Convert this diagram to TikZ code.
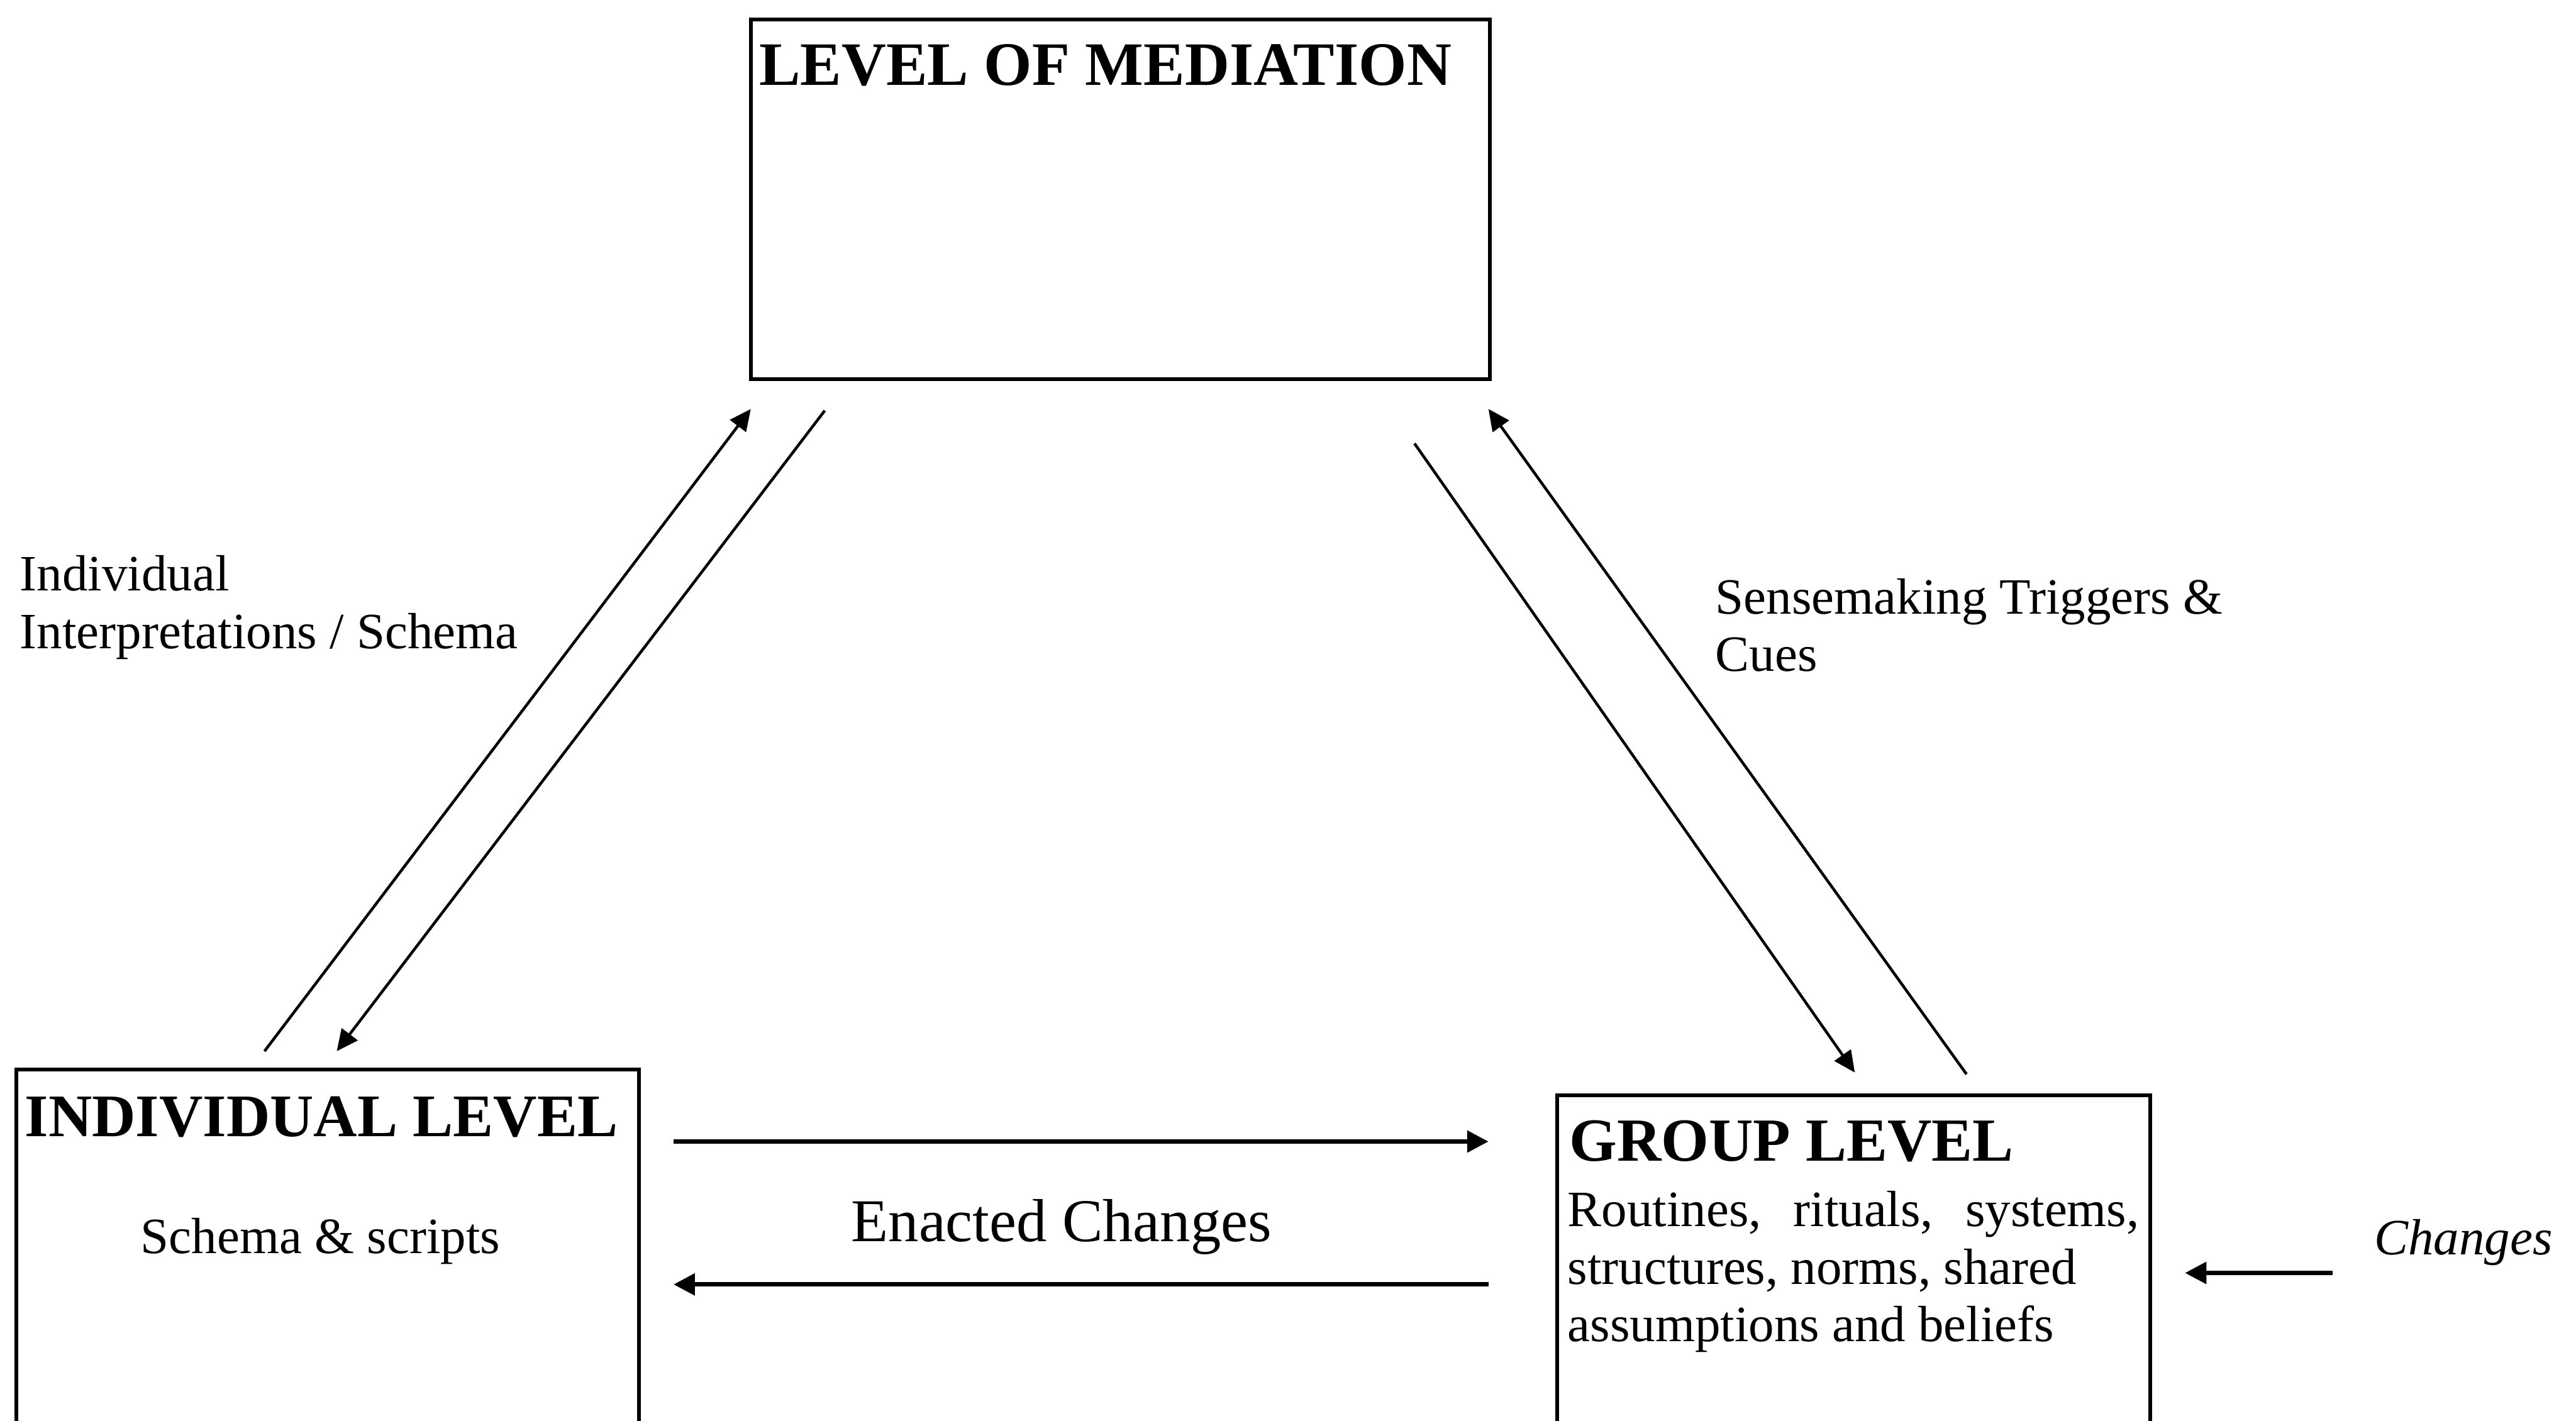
\documentclass[tikz,border=0pt]{standalone}
\usepackage{fontspec}
\setmainfont{Liberation Serif}
\usetikzlibrary{arrows.meta,calc}

\begin{document}
\begin{tikzpicture}[x=1pt,y=-1pt,
  levelbox/.style={draw, line width=2.3pt, anchor=north west, inner sep=0pt, outer sep=0pt},
  levelhead/.style={font=\fontsize{#1}{40}\selectfont\bfseries, anchor=base west, inner sep=0pt},
  levelhead/.default=36.8,
  bodytext/.style={font=\fontsize{31}{35}\selectfont, inner sep=0pt},
  diagarrow/.style={line width=1.7pt, -{Triangle[length=13pt,width=12pt]}},
  flatarrow/.style={line width=2.6pt, -{Triangle[length=13pt,width=13pt]}},
]
\useasboundingbox (0,0) rectangle (1568,865);
\clip (0,0) rectangle (1568,865);

% the three levels
\node[levelbox, minimum width=450pt, minimum height=219pt] (med) at (457,12) {};
\node[levelbox, minimum width=379pt, minimum height=260pt] (ind) at (10,651) {};
\node[levelbox, minimum width=361pt, minimum height=260pt] (grp) at (948,667) {};

\node[levelhead=37.6] (medT) at (462,52) {LEVEL OF MEDIATION};
\node[levelhead] (indT) at (15,692) {INDIVIDUAL LEVEL};
\node[levelhead=37.3] (grpT) at (955,707) {GROUP LEVEL};

\node[bodytext, anchor=base] (indB) at (195,763) {Schema \& scripts};
\node[bodytext, anchor=north west, align=left] (grpB) at (954,725)
  {\makebox[348pt][s]{Routines, rituals, systems,}\\structures, norms, shared\\assumptions and beliefs};

% side labels
\node[bodytext, anchor=north west, align=left] (lblInd) at (12,338)
  {Individual\\Interpretations / Schema};
\node[bodytext, anchor=north west, align=left] (lblSense) at (1044,352)
  {Sensemaking Triggers \&\\Cues};
\node[font=\fontsize{37}{40}\selectfont, anchor=base west, inner sep=0pt] (lblEnact) at (518,756) {Enacted Changes};
\node[bodytext, anchor=base west, font=\fontsize{31}{35}\selectfont\itshape] (lblChg) at (1445,764) {Changes};

% connector end points
\coordinate (iu0) at (161,640);
\coordinate (iu1) at (457,249);
\coordinate (id0) at (502,250);
\coordinate (id1) at (205,640);
\coordinate (gd0) at (861,270);
\coordinate (gd1) at (1129,653);
\coordinate (gu0) at (1197,654);
\coordinate (gu1) at (906,249);
\coordinate (er0) at (410,695);
\coordinate (er1) at (906,695);
\coordinate (el0) at (906,782);
\coordinate (el1) at (410,782);
\coordinate (ch0) at (1420,775);
\coordinate (ch1) at (1330,775);

\draw[diagarrow] (iu0) -- (iu1);
\draw[diagarrow] (id0) -- (id1);
\draw[diagarrow] (gd0) -- (gd1);
\draw[diagarrow] (gu0) -- (gu1);
\draw[flatarrow] (er0) -- (er1);
\draw[flatarrow] (el0) -- (el1);
\draw[flatarrow] (ch0) -- (ch1);
\end{tikzpicture}
\end{document}
